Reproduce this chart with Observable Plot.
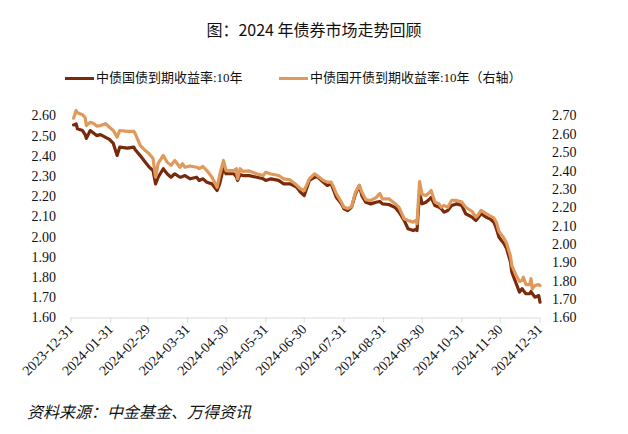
<!DOCTYPE html>
<html><head><meta charset="utf-8">
<script src="https://cdn.jsdelivr.net/npm/d3@7"></script>
<script src="https://cdn.jsdelivr.net/npm/@observablehq/plot@0.6"></script>
<style>
body{margin:0;background:#fff;}
#wrap{position:relative;width:628px;height:434px;overflow:hidden;background:#fff;}
#chart{position:absolute;left:0;top:0;}
#title{position:absolute;left:0;width:628px;top:18px;text-align:center;font-size:16px;font-family:"Noto Sans CJK SC",sans-serif;color:#111;line-height:22px;}
.leg{position:absolute;top:69px;display:flex;align-items:center;font-size:13px;font-family:"Liberation Serif","Noto Sans CJK SC",serif;color:#111;line-height:18px;white-space:nowrap;}
.sw{display:inline-block;width:29px;height:3px;margin-right:2px;}
#caption{position:absolute;left:27px;top:400px;font-size:16px;font-style:italic;font-family:"Noto Sans CJK SC",sans-serif;color:#111;line-height:22px;}
</style></head><body>
<div id="wrap">
<div id="chart"></div>
<div id="title">图：2024 年债券市场走势回顾</div>
<div class="leg" style="left:65px"><span class="sw" id="sw1"></span><span id="lg1"></span></div>
<div class="leg" style="left:279px"><span class="sw" id="sw2"></span><span id="lg2"></span></div>
<div id="caption">资料来源：中金基金、万得资讯</div>
</div>
<script>
const seriesNames = ["中债国债到期收益率:10年", "中债国开债到期收益率:10年（右轴）"];
const dates = ["2024-01-02","2024-01-04","2024-01-05","2024-01-09","2024-01-11","2024-01-12","2024-01-15","2024-01-18","2024-01-20","2024-01-23","2024-01-27","2024-01-30","2024-02-02","2024-02-05","2024-02-07","2024-02-13","2024-02-18","2024-02-19","2024-02-23","2024-02-27","2024-03-01","2024-03-04","2024-03-06","2024-03-08","2024-03-12","2024-03-15","2024-03-18","2024-03-21","2024-03-25","2024-03-27","2024-03-29","2024-04-02","2024-04-07","2024-04-09","2024-04-12","2024-04-15","2024-04-19","2024-04-23","2024-04-25","2024-04-28","2024-04-30","2024-05-06","2024-05-08","2024-05-09","2024-05-11","2024-05-13","2024-05-18","2024-05-24","2024-05-29","2024-05-31","2024-06-04","2024-06-10","2024-06-14","2024-06-19","2024-06-24","2024-06-27","2024-06-30","2024-07-04","2024-07-08","2024-07-10","2024-07-15","2024-07-18","2024-07-21","2024-07-23","2024-07-25","2024-07-29","2024-07-31","2024-08-03","2024-08-06","2024-08-09","2024-08-12","2024-08-14","2024-08-17","2024-08-21","2024-08-25","2024-08-28","2024-08-30","2024-09-04","2024-09-09","2024-09-12","2024-09-16","2024-09-19","2024-09-23","2024-09-25","2024-09-26","2024-09-28","2024-09-30","2024-10-03","2024-10-06","2024-10-07","2024-10-10","2024-10-13","2024-10-15","2024-10-17","2024-10-20","2024-10-23","2024-10-27","2024-10-31","2024-11-03","2024-11-08","2024-11-11","2024-11-13","2024-11-15","2024-11-19","2024-11-22","2024-11-25","2024-11-27","2024-11-29","2024-12-03","2024-12-05","2024-12-08","2024-12-09","2024-12-12","2024-12-15","2024-12-17","2024-12-18","2024-12-20","2024-12-23","2024-12-24","2024-12-25","2024-12-27","2024-12-30","2024-12-31"];
const govYield = [2.556,2.561,2.537,2.528,2.508,2.489,2.528,2.513,2.503,2.508,2.494,2.484,2.464,2.404,2.446,2.441,2.446,2.434,2.404,2.371,2.347,2.330,2.264,2.297,2.339,2.314,2.297,2.314,2.297,2.300,2.305,2.289,2.297,2.281,2.289,2.272,2.264,2.231,2.264,2.345,2.314,2.314,2.300,2.281,2.310,2.305,2.305,2.297,2.289,2.281,2.289,2.281,2.264,2.264,2.248,2.223,2.206,2.281,2.296,2.300,2.272,2.256,2.264,2.231,2.198,2.165,2.141,2.132,2.149,2.215,2.256,2.206,2.173,2.165,2.173,2.177,2.165,2.162,2.147,2.124,2.083,2.042,2.033,2.038,2.033,2.221,2.165,2.173,2.190,2.197,2.157,2.149,2.141,2.124,2.132,2.157,2.165,2.157,2.116,2.099,2.083,2.099,2.116,2.099,2.091,2.074,2.042,2.000,1.967,1.943,1.876,1.827,1.777,1.728,1.745,1.736,1.720,1.720,1.731,1.721,1.703,1.711,1.678];
const cdbYield = [2.688,2.730,2.718,2.707,2.692,2.648,2.666,2.658,2.645,2.648,2.658,2.639,2.621,2.585,2.621,2.616,2.616,2.605,2.540,2.512,2.494,2.469,2.367,2.442,2.485,2.449,2.431,2.458,2.421,2.440,2.421,2.428,2.421,2.413,2.425,2.403,2.367,2.312,2.376,2.458,2.403,2.403,2.413,2.358,2.413,2.398,2.401,2.385,2.376,2.394,2.384,2.376,2.358,2.352,2.324,2.304,2.294,2.358,2.385,2.376,2.349,2.340,2.340,2.312,2.277,2.231,2.203,2.196,2.207,2.285,2.322,2.285,2.245,2.240,2.256,2.278,2.249,2.249,2.222,2.202,2.140,2.131,2.122,2.131,2.113,2.343,2.273,2.267,2.285,2.294,2.231,2.222,2.203,2.213,2.203,2.240,2.240,2.231,2.203,2.180,2.149,2.164,2.186,2.168,2.156,2.145,2.120,2.071,2.033,2.006,1.935,1.886,1.837,1.799,1.804,1.822,1.782,1.782,1.814,1.759,1.777,1.782,1.777];
const xTickLabels = ["2023-12-31","2024-01-31","2024-02-29","2024-03-31","2024-04-30","2024-05-31","2024-06-30","2024-07-31","2024-08-31","2024-09-30","2024-10-31","2024-11-30","2024-12-31"];
const leftTicks = [1.6,1.7,1.8,1.9,2.0,2.1,2.2,2.3,2.4,2.5,2.6];
const rightTicks = [1.6,1.7,1.8,1.9,2.0,2.1,2.2,2.3,2.4,2.5,2.6,2.7];

const DARK = "#7a2a0c", ORANGE = "#e0995a";
const parse = d3.utcParse("%Y-%m-%d");
const toLeft = v => 1.6 + (v - 1.6) * (leftTicks[leftTicks.length-1] - 1.6) / (rightTicks[rightTicks.length-1] - 1.6);
const fromLeft = v => 1.6 + (v - 1.6) * (rightTicks[rightTicks.length-1] - 1.6) / (leftTicks[leftTicks.length-1] - 1.6);
const rows = dates.map((d, i) => ({date: parse(d), gov: govYield[i], cdb: toLeft(cdbYield[i])}));
const xTicks = xTickLabels.map(parse);

const chart = Plot.plot({
  width: 628, height: 434,
  marginLeft: 70.5, marginRight: 88.5, marginTop: 115.5, marginBottom: 116.5,
  style: {fontFamily: "'Liberation Serif','Times New Roman',serif", fontSize: "14px", color: "#111", background: "transparent", overflow: "visible"},
  x: {type: "utc", domain: [xTicks[0], xTicks[xTicks.length-1]]},
  y: {domain: [leftTicks[0], leftTicks[leftTicks.length-1]]},
  marks: [
    Plot.ruleY([leftTicks[0]], {stroke: "#d9d9d9", strokeWidth: 1}),
    Plot.axisX(xTicks, {tickSize: 5, tickPadding: 4, tickRotate: -45, tickFormat: d3.utcFormat("%Y-%m-%d"), stroke: "#d9d9d9", fill: "#111", fontSize: 14, label: null}),
    Plot.axisY(leftTicks, {anchor: "left", tickSize: 0, tickPadding: 15, tickFormat: d => d.toFixed(2), label: null}),
    Plot.axisY(rightTicks.map(toLeft), {anchor: "right", tickSize: 0, tickPadding: 12, tickFormat: d => fromLeft(d).toFixed(2), label: null}),
    Plot.line(rows, {x: "date", y: "gov", stroke: DARK, strokeWidth: 3.2}),
    Plot.line(rows, {x: "date", y: "cdb", stroke: ORANGE, strokeWidth: 3.2})
  ]
});
document.getElementById("chart").appendChild(chart);
document.getElementById("sw1").style.background = DARK;
document.getElementById("sw2").style.background = ORANGE;
document.getElementById("lg1").textContent = seriesNames[0];
document.getElementById("lg2").textContent = seriesNames[1];
</script>
</body></html>
